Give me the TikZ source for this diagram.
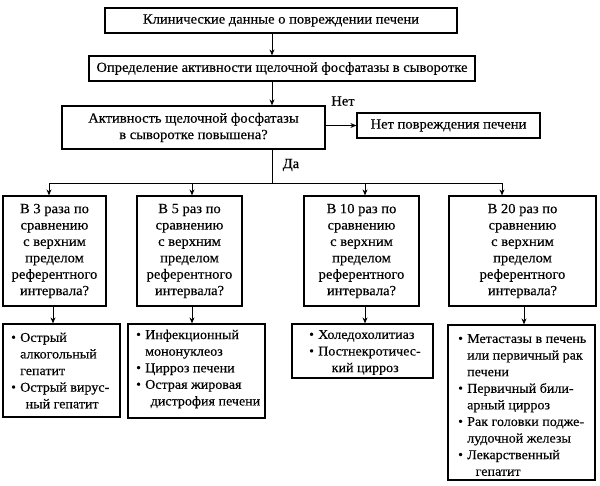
\documentclass[tikz,border=0pt]{standalone}
\usepackage{fontspec}
\setmainfont{Liberation Serif}[FakeStretch=1.04,FakeBold=0.3]
\usetikzlibrary{arrows.meta,calc}
\newcommand\bul{\makebox[9pt][l]{\raisebox{0.05ex}{\fontsize{13}{13}\selectfont •}}}
\newcommand\ind[1][0pt]{\hspace*{\dimexpr9pt+#1\relax}}
\begin{document}
\begin{tikzpicture}[x=1pt,y=-1pt,
  every node/.style={font=\fontsize{14}{16.4}\selectfont, text=black},
  box/.style={draw=black, line width=1.2pt, inner sep=0pt, align=center},
  txt/.style={inner sep=0pt, align=left, anchor=west, font=\fontsize{13.5}{16.6}\selectfont},
  arr/.style={line width=1pt, -{Stealth[length=6pt,width=5pt]}},
  ln/.style={line width=1pt}]
\useasboundingbox (0,0) rectangle (600,485);
\fill[white] (0,0) rectangle (600,485);

% top chain
\node[box, minimum width=352pt, minimum height=25pt] (b1) at (281,20.5) {Клинические данные о повреждении печени};
\node[box, minimum width=386pt, minimum height=25pt] (b2) at (282,68.5) {Определение активности щелочной фосфатазы в сыворотке};
\node[box, minimum width=263pt, minimum height=43pt] (b3) at (193.5,127.5) {Активность щелочной фосфатазы\\в сыворотке повышена?};
\node[box, minimum width=183pt, minimum height=25pt] (b4) at (448.5,125.5) {Нет повреждения печени};
\node[inner sep=0pt] (net) at (343,101) {Нет};
\node[inner sep=0pt] (da) at (291,165) {Да};

\coordinate (vx) at (272,0);
\coordinate (busL) at (49,183);
\coordinate (busR) at (502,183);
\coordinate (tB) at (192,183);
\coordinate (tC) at (365,183);

\draw[arr] (b1.south -| vx) -- (b2.north -| vx);
\draw[arr] (b2.south -| vx) -- (b3.north -| vx);
\draw[arr] (b3.east |- b4.west) -- (b4.west);
\draw[ln] (b3.south -| vx) -- (vx |- busL);
\draw[ln] (busL) -- (busR);

% question boxes
\node[box, minimum width=103pt, minimum height=110pt] (qA) at (54.5,251) {В 3 раза по\\сравнению\\с верхним\\пределом\\референтного\\интервала?};
\node[box, minimum width=105pt, minimum height=110pt] (qB) at (189.5,251) {В 5 раз по\\сравнению\\с верхним\\пределом\\референтного\\интервала?};
\node[box, minimum width=115pt, minimum height=110pt] (qC) at (361.5,251) {В 10 раз по\\сравнению\\с верхним\\пределом\\референтного\\интервала?};
\node[box, minimum width=147pt, minimum height=110pt] (qD) at (522.5,251) {В 20 раз по\\сравнению\\с верхним\\пределом\\референтного\\интервала?};

\draw[arr] (busL) -- (qA.north -| busL);
\draw[arr] (tB) -- (qB.north -| tB);
\draw[arr] (tC) -- (qC.north -| tC);
\draw[arr] (busR) -- (qD.north -| busR);

% result boxes
\node[box, minimum width=117pt, minimum height=93pt] (rA) at (61.5,370.5) {};
\node[box, minimum width=137pt, minimum height=94pt] (rB) at (196.5,371) {};
\node[box, minimum width=141pt, minimum height=54pt] (rC) at (362.5,351) {};
\node[box, minimum width=147pt, minimum height=155pt] (rD) at (521.5,402.5) {};

\node[txt] (xA) at (11,370.5) {\bul Острый\\\ind алкогольный\\\ind гепатит\\\bul Острый вирус-\\\ind[2pt] ный гепатит};
\node[txt] (xB) at (136,369) {\bul Инфекционный\\\ind мононуклеоз\\\bul Цирроз печени\\\bul Острая жировая\\\ind[2pt] дистрофия печени};
\node[txt] (xC) at (309,352.5) {\bul Холедохолитиаз\\\bul Постнекротичес-\\\ind[10pt] кий цирроз};
\node[txt] (xD) at (458,405) {\bul Метастазы в печень\\\ind или первичный рак\\\ind печени\\\bul Первичный били-\\\ind арный цирроз\\\bul Рак головки подже-\\\ind лудочной железы\\\bul Лекарственный\\\ind[5pt] гепатит};

\coordinate (cA) at (53,0);
\coordinate (cB) at (192,0);
\coordinate (cC) at (365,0);
\coordinate (cD) at (524,0);
\draw[arr] (qA.south -| cA) -- (rA.north -| cA);
\draw[arr] (qB.south -| cB) -- (rB.north -| cB);
\draw[arr] (qC.south -| cC) -- (rC.north -| cC);
\draw[arr] (qD.south -| cD) -- (rD.north -| cD);
\end{tikzpicture}
\end{document}
